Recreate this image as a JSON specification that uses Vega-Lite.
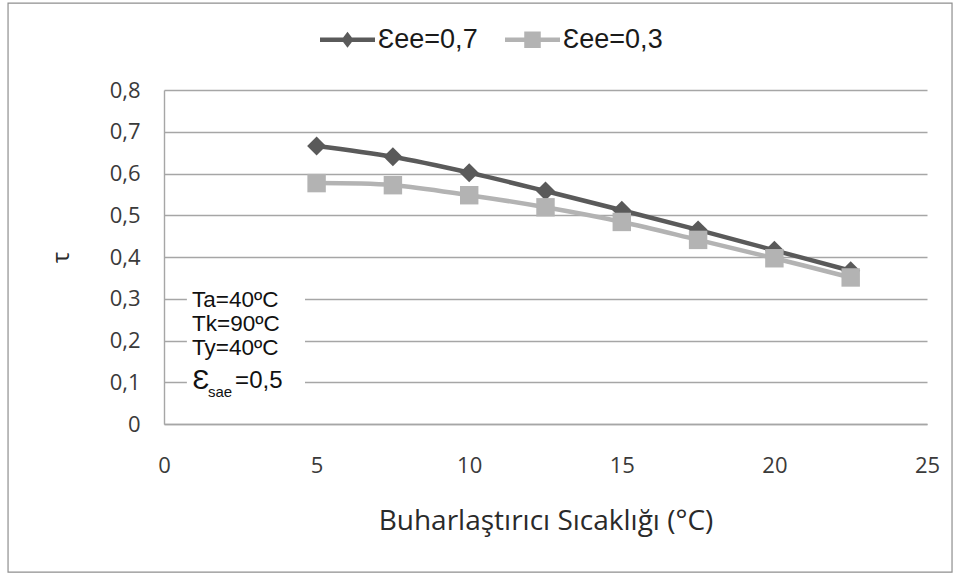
{
  "$schema": "https://vega.github.io/schema/vega-lite/v6.json",
  "width": 763,
  "height": 334,
  "autosize": {"type": "none"},
  "padding": {"left": 164, "top": 90, "right": 33, "bottom": 154},
  "background": "white",
  "config": {
    "view": {"stroke": null},
    "axis": {
      "labelFont": "Open Sans",
      "labelFontSize": 22,
      "labelColor": "#3a3a3a",
      "labelFlush": false,
      "titleFont": "Open Sans",
      "titleFontWeight": "normal",
      "titleColor": "#2a2a2a",
      "gridColor": "#a6a6a6",
      "gridWidth": 1.4,
      "domainColor": "#a6a6a6",
      "domainWidth": 1.4,
      "ticks": false
    }
  },
  "data": {
    "values": [
      {"t": 5, "tau": 0.666, "series": "Ɛee=0,7"},
      {"t": 7.5, "tau": 0.64, "series": "Ɛee=0,7"},
      {"t": 10, "tau": 0.602, "series": "Ɛee=0,7"},
      {"t": 12.5, "tau": 0.558, "series": "Ɛee=0,7"},
      {"t": 15, "tau": 0.512, "series": "Ɛee=0,7"},
      {"t": 17.5, "tau": 0.465, "series": "Ɛee=0,7"},
      {"t": 20, "tau": 0.416, "series": "Ɛee=0,7"},
      {"t": 22.5, "tau": 0.367, "series": "Ɛee=0,7"},
      {"t": 5, "tau": 0.577, "series": "Ɛee=0,3"},
      {"t": 7.5, "tau": 0.572, "series": "Ɛee=0,3"},
      {"t": 10, "tau": 0.548, "series": "Ɛee=0,3"},
      {"t": 12.5, "tau": 0.519, "series": "Ɛee=0,3"},
      {"t": 15, "tau": 0.484, "series": "Ɛee=0,3"},
      {"t": 17.5, "tau": 0.441, "series": "Ɛee=0,3"},
      {"t": 20, "tau": 0.397, "series": "Ɛee=0,3"},
      {"t": 22.5, "tau": 0.351, "series": "Ɛee=0,3"}
    ]
  },
  "layer": [
    {
      "transform": [{"filter": "datum.series == 'Ɛee=0,7'"}],
      "mark": {"type": "line", "interpolate": "catmull-rom", "strokeWidth": 4.5, "color": "#5a5a5a"},
      "encoding": {
        "x": {
          "field": "t", "type": "quantitative",
          "scale": {"domain": [0, 25], "nice": false},
          "axis": {
            "values": [0, 5, 10, 15, 20, 25],
            "grid": false,
            "labelPadding": 31,
            "title": "Buharlaştırıcı Sıcaklığı (°C)",
            "titleFontSize": 28,
            "titlePadding": 31
          }
        },
        "y": {
          "field": "tau", "type": "quantitative",
          "scale": {"domain": [0, 0.8], "nice": false},
          "axis": {
            "values": [0, 0.1, 0.2, 0.3, 0.4, 0.5, 0.6, 0.7, 0.8],
            "grid": true,
            "labelExpr": "datum.value == 0 ? '0' : replace(format(datum.value, '.1f'), '.', ',')",
            "labelPadding": 24,
            "title": "τ",
            "titleFontSize": 24,
            "titlePadding": 36
          }
        }
      }
    },
    {
      "transform": [{"filter": "datum.series == 'Ɛee=0,7'"}],
      "mark": {"type": "point", "filled": true, "opacity": 1, "shape": "diamond", "size": 360, "color": "#5a5a5a"},
      "encoding": {
        "x": {"field": "t", "type": "quantitative"},
        "y": {"field": "tau", "type": "quantitative"}
      }
    },
    {
      "transform": [{"filter": "datum.series == 'Ɛee=0,3'"}],
      "mark": {"type": "line", "interpolate": "catmull-rom", "strokeWidth": 4.5, "color": "#b3b3b3"},
      "encoding": {
        "x": {"field": "t", "type": "quantitative"},
        "y": {"field": "tau", "type": "quantitative"}
      }
    },
    {
      "transform": [{"filter": "datum.series == 'Ɛee=0,3'"}],
      "mark": {"type": "point", "filled": true, "opacity": 1, "shape": "square", "size": 340, "color": "#b3b3b3"},
      "encoding": {
        "x": {"field": "t", "type": "quantitative"},
        "y": {"field": "tau", "type": "quantitative"}
      }
    },
    {
      "mark": {"type": "point", "filled": true, "opacity": 0},
      "encoding": {
        "x": {"field": "t", "type": "quantitative"},
        "y": {"field": "tau", "type": "quantitative"},
        "fill": {
          "field": "series", "type": "nominal",
          "scale": {"domain": ["Ɛee=0,7", "Ɛee=0,3"], "range": ["#5a5a5a", "#b3b3b3"]},
          "legend": {
            "orient": "none",
            "legendX": 156,
            "legendY": -78,
            "direction": "horizontal",
            "title": null,
            "padding": 0,
            "labelFont": "Liberation Sans",
            "labelFontSize": 27,
            "labelColor": "#1a1a1a",
            "labelOffset": 3,
            "columnPadding": 27,
            "symbolSize": 3025,
            "symbolStrokeWidth": 0,
            "symbolOpacity": 1
          }
        },
        "shape": {
          "field": "series", "type": "nominal",
          "scale": {
            "domain": ["Ɛee=0,7", "Ɛee=0,3"],
            "range": [
              "M-1,-0.08L-0.159,-0.08L0,-0.29L0.159,-0.08L1,-0.08L1,0.08L0.159,0.08L0,0.29L-0.159,0.08L-1,0.08Z",
              "M-1,-0.08L-0.3,-0.08L-0.3,-0.3L0.3,-0.3L0.3,-0.08L1,-0.08L1,0.08L0.3,0.08L0.3,0.3L-0.3,0.3L-0.3,0.08L-1,0.08Z"
            ]
          },
          "legend": {
            "orient": "none",
            "legendX": 156,
            "legendY": -78,
            "direction": "horizontal",
            "title": null,
            "padding": 0,
            "labelFont": "Liberation Sans",
            "labelFontSize": 27,
            "labelColor": "#1a1a1a",
            "labelOffset": 3,
            "columnPadding": 27,
            "symbolSize": 3025,
            "symbolStrokeWidth": 0,
            "symbolOpacity": 1
          }
        }
      }
    },
    {
      "data": {"values": [{}]},
      "mark": {"type": "rect", "fill": "transparent", "stroke": "#8f8f8f", "strokeWidth": 1.2, "clip": false},
      "encoding": {
        "x": {"datum": -5.11, "type": "quantitative"},
        "x2": {"datum": 25.82},
        "y": {"datum": 1.008, "type": "quantitative"},
        "y2": {"datum": -0.355}
      }
    },
    {
      "data": {"values": [{}]},
      "mark": {"type": "rect", "fill": "white"},
      "encoding": {
        "x": {"datum": 0.75, "type": "quantitative"},
        "x2": {"datum": 4.62},
        "y": {"datum": 0.06, "type": "quantitative"},
        "y2": {"datum": 0.33}
      }
    },
    {
      "data": {"values": [{}]},
      "mark": {"type": "text", "text": ["Ta=40ºC", "Tk=90ºC", "Ty=40ºC"], "font": "Liberation Sans", "fontSize": 22.5, "lineHeight": 24, "align": "left", "baseline": "middle", "color": "#111"},
      "encoding": {
        "x": {"datum": 0.92, "type": "quantitative"},
        "y": {"datum": 0.297, "type": "quantitative"}
      }
    },
    {
      "data": {"values": [{}]},
      "mark": {"type": "text", "text": "Ɛ", "font": "Liberation Sans", "fontSize": 28, "align": "left", "baseline": "middle", "color": "#111"},
      "encoding": {
        "x": {"datum": 0.93, "type": "quantitative"},
        "y": {"datum": 0.103, "type": "quantitative"}
      }
    },
    {
      "data": {"values": [{}]},
      "mark": {"type": "text", "text": "sae", "font": "Liberation Sans", "fontSize": 15, "align": "left", "baseline": "middle", "color": "#111"},
      "encoding": {
        "x": {"datum": 1.44, "type": "quantitative"},
        "y": {"datum": 0.077, "type": "quantitative"}
      }
    },
    {
      "data": {"values": [{}]},
      "mark": {"type": "text", "text": "=0,5", "font": "Liberation Sans", "fontSize": 24, "align": "left", "baseline": "middle", "color": "#111"},
      "encoding": {
        "x": {"datum": 2.33, "type": "quantitative"},
        "y": {"datum": 0.103, "type": "quantitative"}
      }
    }
  ]
}
